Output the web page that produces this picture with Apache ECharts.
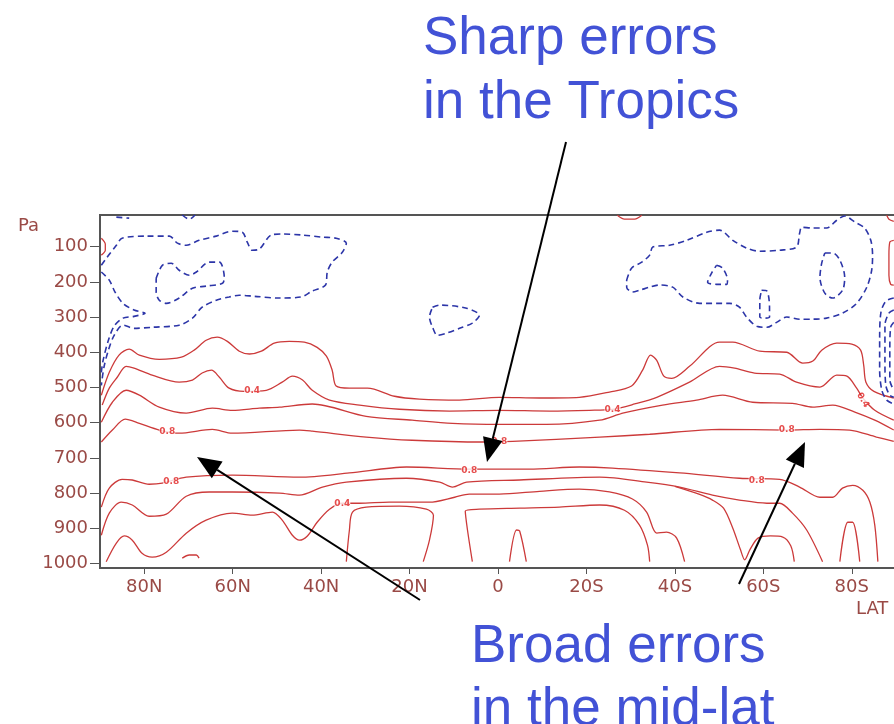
<!DOCTYPE html>
<html>
<head>
<meta charset="utf-8">
<style>
  html, body { margin: 0; padding: 0; background: #fff; }
  #chart { width: 894px; height: 724px; }
</style>
<script src="https://cdn.jsdelivr.net/npm/echarts@6/dist/echarts.min.js"></script>
</head>
<body>
<div id="chart"></div>
<script>
// tick labels: latitude (N positive) and pressure (hPa)
const latTicks = [80, 60, 40, 20, 0, -20, -40, -60, -80]
const presTicks = [100, 200, 300, 400, 500, 600, 700, 800, 900, 1000]

// positive error contours (red, solid), points are [lat, hPa]
const upper02 = [[89.7, 522], [87.9, 457], [85.7, 408], [83.4, 391], [81.1, 408], [76.6, 420], [71.6, 414], [68.7, 394], [66.0, 366], [63.5, 357], [61.2, 369], [58.5, 397], [56.2, 405], [53.5, 397], [50.6, 374], [47.2, 369], [43.8, 371], [40.9, 386], [38.8, 411], [37.5, 451], [36.6, 496], [33.6, 502], [29.5, 502], [23.4, 525], [17.8, 533], [8.7, 536], [-0.3, 528], [-9.4, 530], [-18.4, 528], [-25.2, 513], [-30.2, 496], [-32.7, 451], [-34.5, 408], [-35.9, 423], [-37.5, 468], [-39.3, 474], [-43.3, 440], [-50.1, 371], [-53.1, 371], [-59.2, 397], [-65.3, 400], [-68.9, 431], [-71.2, 425], [-73.2, 394], [-76.6, 374], [-80.0, 377], [-82.0, 394], [-82.7, 437], [-83.2, 485], [-85.0, 511], [-89.5, 530]]
const upper04 = [[89.5, 550], [87.9, 502], [86.1, 471], [84.1, 440], [82.3, 445], [78.2, 465], [72.1, 485], [69.1, 479], [66.9, 459], [64.8, 451], [63.0, 471], [60.8, 502], [57.4, 511], [52.4, 508], [48.8, 485], [46.5, 468], [44.2, 479], [42.0, 508], [38.1, 536], [31.3, 550], [22.3, 562], [11.0, 567], [-0.3, 565], [-11.7, 567], [-20.7, 565], [-25.9, 562], [-30.9, 547], [-35.9, 528], [-43.3, 485], [-50.1, 440], [-53.5, 445], [-58.0, 459], [-63.7, 462], [-67.5, 485], [-72.8, 499], [-76.6, 465], [-78.9, 468], [-81.1, 502], [-82.5, 530], [-85.2, 565], [-89.5, 593]]
const upper06 = [[89.7, 599], [87.2, 542], [84.1, 508], [81.1, 522], [76.6, 556], [70.5, 573], [64.6, 559], [60.1, 565], [54.0, 559], [49.4, 556], [42.0, 547], [29.8, 582], [19.4, 593], [10.3, 602], [-0.3, 605], [-11.0, 605], [-23.0, 593], [-28.2, 573], [-37.2, 550], [-44.9, 536], [-50.8, 522], [-57.6, 542], [-66.6, 545], [-71.2, 556], [-75.7, 550], [-80.7, 570], [-85.2, 593], [-89.5, 621]]
const upper08 = [[89.7, 655], [87.2, 621], [84.3, 590], [81.1, 602], [76.6, 621], [72.1, 630], [64.6, 619], [60.1, 630], [44.9, 621], [42.0, 624], [29.8, 641], [19.4, 650], [3.5, 655], [-3.3, 653], [-23.0, 641], [-34.3, 633], [-50.1, 619], [-65.3, 621], [-72.8, 619], [-79.5, 621], [-85.6, 641], [-89.5, 653]]
const lower08 = [[89.7, 840], [87.9, 786], [85.0, 761], [82.7, 763], [78.9, 775], [75.9, 772], [70.5, 755], [60.1, 749], [44.9, 755], [33.6, 743], [20.7, 726], [6.5, 732], [-7.1, 732], [-18.4, 726], [-25.9, 729], [-41.1, 743], [-54.6, 758], [-63.7, 761], [-68.2, 783], [-72.8, 812], [-75.7, 812], [-77.9, 786], [-80.2, 778], [-82.5, 792], [-84.1, 826], [-85.2, 891], [-85.9, 995]]
const lower06 = [[89.7, 920], [87.9, 857], [85.2, 826], [82.7, 834], [78.9, 866], [75.0, 860], [70.5, 809], [65.3, 797], [60.1, 797], [49.4, 800], [44.9, 806], [39.7, 783], [34.3, 769], [20.7, 758], [13.2, 769], [10.3, 783], [7.1, 769], [-4.9, 763], [-23.0, 755], [-33.6, 769], [-41.1, 783], [-48.5, 806], [-54.6, 820], [-60.8, 829], [-63.7, 829], [-66.6, 857], [-69.8, 905], [-73.4, 995]]
const lower04 = [[88.6, 995], [86.3, 942], [84.5, 922], [82.7, 934], [80.5, 971], [78.2, 982], [75.0, 968], [70.5, 914], [66.0, 877], [60.1, 857], [55.6, 863], [51.0, 854], [48.8, 877], [46.5, 920], [44.9, 934], [43.1, 922], [40.9, 883], [38.1, 846], [35.2, 829], [31.3, 829], [24.6, 826], [15.5, 826], [9.8, 812], [6.5, 803], [-0.3, 803], [-9.4, 795], [-18.4, 789], [-25.2, 797], [-30.4, 817], [-33.6, 854], [-35.9, 914], [-38.1, 911], [-40.4, 928], [-42.2, 995]]
const lower04South = [[-40.0, 781], [-45.6, 804], [-48.5, 820], [-51.0, 843], [-53.1, 900], [-54.8, 960], [-55.8, 990], [-57.0, 960], [-58.8, 928], [-61.6, 922], [-64.4, 925], [-66.2, 950], [-67.0, 995]]
const lower02Main = [[5.8, 995], [6.9, 905], [7.4, 851], [4.2, 846], [-4.9, 843], [-13.9, 840], [-23.0, 834], [-28.6, 849], [-32.0, 891], [-33.8, 948], [-34.3, 995]]
const lower02Arch1 = [[34.3, 995], [33.6, 905], [32.9, 854], [29.8, 840], [22.3, 837], [16.2, 846], [14.6, 863], [15.5, 934], [16.9, 995]]
const lower02Arch2 = [[-2.6, 995], [-4.2, 905], [-4.9, 908], [-6.4, 995]]
const lower02Arch3 = [[-77.3, 995], [-79.1, 883], [-80.2, 883], [-81.8, 995]]
const lower02Arc = [[71.4, 985], [69.8, 976], [68.2, 976], [67.6, 985]]
const poleNorthArc = [[89.7, 76], [88.8, 93], [88.8, 110], [89.7, 124]]
const poleSouthBox = [[-89.5, 82], [-88.6, 87], [-88.4, 124], [-88.4, 181], [-88.8, 207], [-89.5, 209]]
const poleSouthTop = [[-87.9, 11], [-88.4, 22], [-89.5, 28]]
const topArcSouth = [[-27.0, 11], [-28.6, 22], [-30.9, 22], [-32.5, 11]]

// negative error contours (blue, dashed)
const negNorth = [[89.7, 153], [88.4, 130], [86.3, 96], [85.0, 76], [79.5, 70], [74.3, 70], [72.5, 90], [70.5, 96], [67.6, 82], [63.7, 70], [60.1, 56], [57.8, 59], [56.7, 87], [55.6, 110], [54.0, 107], [51.3, 67], [48.8, 64], [44.2, 67], [39.7, 73], [36.6, 76], [34.3, 90], [35.2, 116], [37.5, 144], [38.6, 172], [39.0, 209], [42.0, 226], [44.5, 243], [49.4, 246], [55.1, 241], [58.5, 238], [60.8, 243], [63.7, 252], [66.9, 272], [69.1, 303], [72.1, 323], [78.2, 329], [82.3, 332], [84.8, 323], [86.8, 352], [88.1, 394], [89.1, 442], [89.7, 494]]
const negNorthTongue = [[89.7, 172], [87.9, 195], [86.6, 229], [84.8, 261], [82.3, 280], [79.8, 289], [82.3, 298], [84.8, 303], [86.8, 326], [88.1, 366], [89.3, 423], [89.7, 457]]
const negNorthCore = [[77.3, 190], [75.9, 153], [73.9, 147], [72.1, 167], [69.8, 181], [68.2, 172], [65.3, 144], [63.0, 144], [61.9, 187], [62.3, 204], [66.0, 212], [69.1, 218], [72.1, 246], [75.0, 261], [76.6, 252], [77.3, 229], [77.3, 190]]
const negNorthTop1 = [[86.3, 16], [83.4, 19]]
const negNorthTop2 = [[71.4, 10], [69.8, 22], [68.5, 10]]
const negTropic = [[14.8, 272], [13.2, 266], [7.1, 275], [4.2, 295], [5.8, 317], [8.7, 332], [11.7, 346], [13.7, 352], [14.8, 329], [15.5, 300], [14.8, 272]]
const negSouth = [[-29.1, 195], [-30.2, 161], [-32.5, 144], [-34.3, 124], [-35.0, 101], [-38.8, 96], [-42.7, 82], [-47.2, 59], [-50.1, 53], [-53.1, 82], [-56.2, 104], [-59.2, 113], [-63.7, 110], [-67.5, 101], [-68.2, 62], [-68.7, 45], [-71.2, 47], [-74.3, 47], [-76.6, 25], [-78.4, 13], [-80.7, 30], [-82.9, 47], [-84.3, 82], [-84.7, 124], [-84.5, 167], [-83.4, 215], [-81.1, 261], [-77.9, 289], [-74.3, 303], [-71.2, 306], [-68.2, 306], [-65.3, 300], [-63.0, 315], [-60.8, 329], [-58.5, 326], [-56.2, 300], [-54.6, 272], [-52.4, 261], [-45.6, 261], [-41.8, 243], [-39.5, 215], [-36.5, 209], [-34.3, 215], [-32.0, 224], [-30.4, 229], [-29.1, 215], [-29.1, 195]]
const negSouthTri = [[-49.4, 153], [-50.8, 161], [-51.9, 195], [-51.7, 207], [-49.4, 207], [-47.4, 201], [-48.3, 175], [-49.4, 153]]
const negSouthBar = [[-59.6, 224], [-60.8, 226], [-61.4, 272], [-61.4, 300], [-60.3, 303], [-59.2, 300], [-59.2, 252], [-59.6, 224]]
const negSouthOval = [[-73.9, 118], [-75.7, 118], [-77.3, 138], [-78.4, 187], [-77.9, 224], [-75.7, 246], [-73.9, 232], [-72.8, 187], [-73.2, 147], [-73.9, 118]]
const negPole1 = [[-89.5, 246], [-87.7, 255], [-86.6, 286], [-86.3, 366], [-86.3, 451], [-86.8, 508], [-87.9, 536], [-89.5, 547]]
const negPole2 = [[-89.5, 280], [-88.4, 289], [-87.5, 323], [-87.5, 423], [-87.7, 494], [-88.6, 522], [-89.5, 528]]
const negPole3 = [[-89.5, 315], [-88.8, 329], [-88.6, 394], [-88.6, 479], [-89.5, 508]]

// contour value labels [lat, hPa, text, rotation]
const contourLabels = [
  [55.6, 508, '0.4', 0], [74.8, 627, '0.8', 0], [73.9, 769, '0.8', 0],
  [35.2, 829, '0.4', 0], [-0.3, 653, '0.8', 0], [6.5, 735, '0.8', 0],
  [-25.9, 562, '0.4', 0], [-65.3, 621, '0.8', 0], [-58.5, 766, '0.8', 0],
  [-82.5, 536, '0.4', -60]
]

const RED = '#cc3a3a'
const BLUE = '#2c35a8'
const AXIS_TEXT = '#9a4a46'

const redLines = [upper02, upper04, upper06, upper08, lower08, lower06, lower04, lower04South,
  lower02Main, lower02Arch1, lower02Arch2, lower02Arch3, lower02Arc,
  poleNorthArc, poleSouthBox, poleSouthTop, topArcSouth]
const blueLines = [negNorth, negNorthTongue, negNorthCore, negNorthTop1, negNorthTop2,
  negTropic, negSouth, negSouthTri, negSouthBar, negSouthOval, negPole1, negPole2, negPole3]

const series = []
redLines.forEach(function(d) {
  series.push({
    type: 'line', data: d, showSymbol: false, smooth: 0.3, silent: true,
    lineStyle: { color: RED, width: 1.3 }, z: 2
  })
})
blueLines.forEach(function(d) {
  series.push({
    type: 'line', data: d, showSymbol: false, smooth: 0.3, silent: true,
    lineStyle: { color: BLUE, width: 1.6, type: [6, 4] }, z: 2
  })
})
series.push({
  type: 'scatter',
  silent: true,
  z: 3,
  symbol: 'rect',
  symbolSize: [16, 8],
  itemStyle: { color: '#fff' },
  data: contourLabels.map(function(l) {
    return { value: [l[0], l[1]], name: l[2], label: { rotate: l[3] } }
  }),
  label: {
    show: true, position: 'inside', formatter: '{b}',
    color: '#e02020', fontSize: 9, fontWeight: 'bold', fontFamily: 'DejaVu Sans'
  }
})

// annotation arrows, [x1, y1, x2 (tip), y2 (tip)] in page pixels
const arrows = [[566, 142, 487, 462], [420, 600, 197, 457], [739, 584, 805, 442]]

function arrowGraphic(a) {
  const dx = a[2] - a[0], dy = a[3] - a[1]
  const len = Math.sqrt(dx * dx + dy * dy)
  const ux = dx / len, uy = dy / len
  const hl = 24, hw = 10
  const bx = a[2] - ux * hl, by = a[3] - uy * hl
  return [{
    type: 'line', z: 10,
    shape: { x1: a[0], y1: a[1], x2: bx, y2: by },
    style: { stroke: '#000', lineWidth: 2 }
  }, {
    type: 'polygon', z: 10,
    shape: { points: [[a[2], a[3]], [bx - uy * hw, by + ux * hw], [bx + uy * hw, by - ux * hw]] },
    style: { fill: '#000' }
  }]
}

const noteFont = '53px "Liberation Sans", Arial, sans-serif'
const graphics = [
  { type: 'text', z: 10, x: 423, y: 13, style: { text: 'Sharp errors', font: noteFont, fill: '#4252d6' } },
  { type: 'text', z: 10, x: 423, y: 77, style: { text: 'in the Tropics', font: noteFont, fill: '#4252d6' } },
  { type: 'text', z: 10, x: 471, y: 621, style: { text: 'Broad errors', font: noteFont, fill: '#4252d6' } },
  { type: 'text', z: 10, x: 471, y: 684, style: { text: 'in the mid-lat', font: noteFont, fill: '#4252d6' } },
  { type: 'text', z: 10, x: 18, y: 217, style: { text: 'Pa', font: '18px "DejaVu Sans"', fill: AXIS_TEXT } },
  { type: 'text', z: 10, x: 856, y: 600, style: { text: 'LAT', font: '18px "DejaVu Sans"', fill: AXIS_TEXT } }
]
arrows.forEach(function(a) { arrowGraphic(a).forEach(function(g) { graphics.push(g) }) })

const chart = echarts.init(document.getElementById('chart'))
chart.setOption({
  animation: false,
  backgroundColor: '#fff',
  grid: {
    left: 100, top: 215, width: 796, height: 353,
    show: true, borderColor: '#555', borderWidth: 2,
    outerBoundsMode: 'none'
  },
  xAxis: {
    type: 'value', min: -90, max: 90, inverse: true,
    axisLine: { show: true, onZero: false, lineStyle: { color: '#555', width: 2 } },
    axisTick: { show: true, length: 6, customValues: latTicks, lineStyle: { color: '#555' } },
    axisLabel: {
      customValues: latTicks, margin: 10, color: AXIS_TEXT, fontSize: 18, fontFamily: 'DejaVu Sans',
      formatter: function(v) { return v > 0 ? v + 'N' : v < 0 ? (-v) + 'S' : '0' }
    },
    splitLine: { show: false }
  },
  yAxis: {
    type: 'value', min: 10, max: 1013, inverse: true,
    axisLine: { show: true, onZero: false, lineStyle: { color: '#555', width: 2 } },
    axisTick: { show: true, length: 10, customValues: presTicks, lineStyle: { color: '#555' } },
    axisLabel: {
      customValues: presTicks, margin: 12, color: AXIS_TEXT, fontSize: 18, fontFamily: 'DejaVu Sans',
      formatter: function(v) { return String(v) }
    },
    splitLine: { show: false }
  },
  graphic: graphics,
  series: series
})
</script>
</body>
</html>
